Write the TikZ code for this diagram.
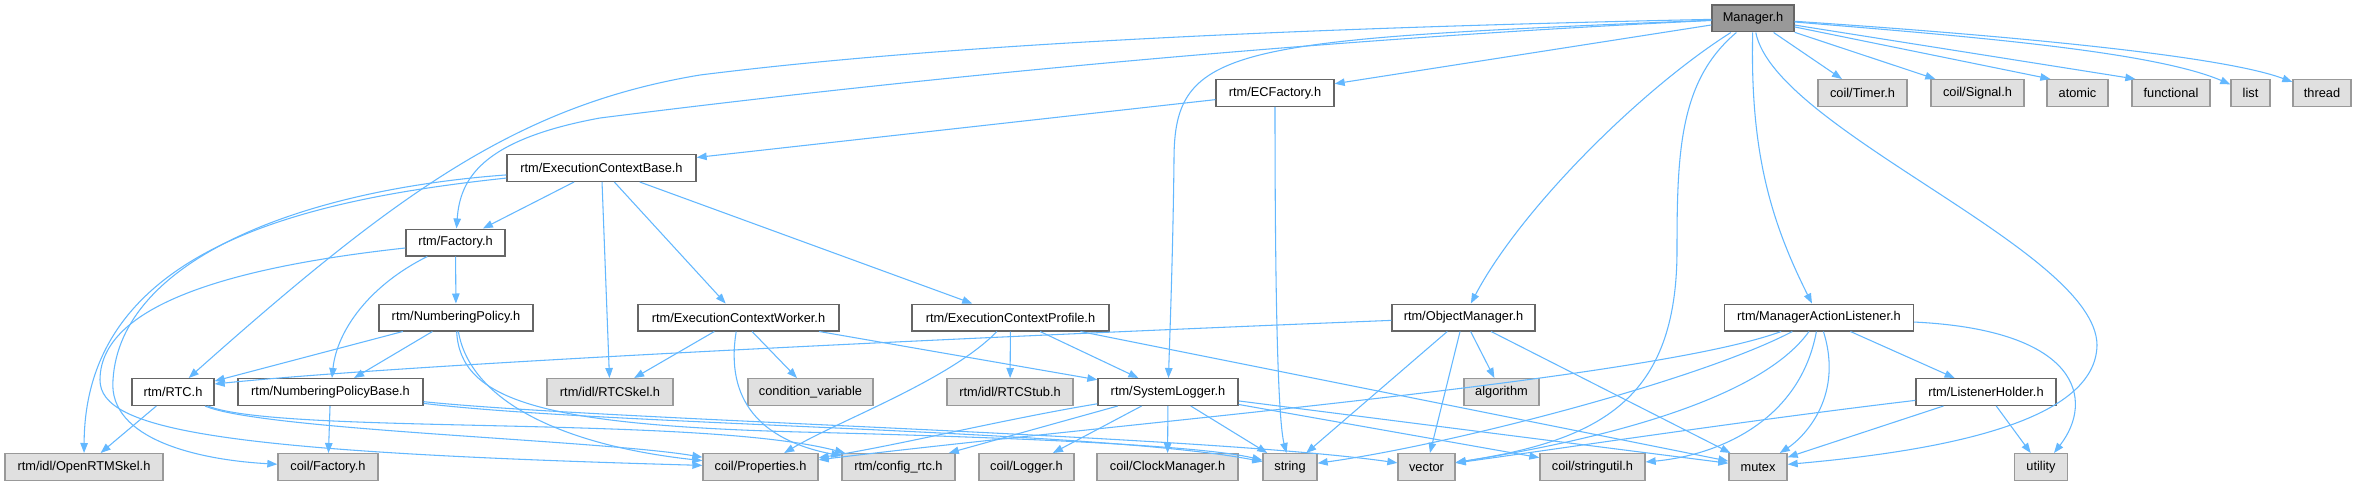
\documentclass[tikz,border=0pt]{standalone}
\usepackage{fontspec}
\setmainfont{Liberation Sans}
\usetikzlibrary{arrows.meta}
\definecolor{edgeblue}{HTML}{63B8FF}
\definecolor{docborder}{HTML}{666666}
\definecolor{extfill}{HTML}{E0E0E0}
\definecolor{extborder}{HTML}{999999}
\definecolor{rootfill}{HTML}{999999}
\begin{document}
\begin{tikzpicture}[x=0.75pt,y=-0.75pt,
  nbase/.style={rectangle, line width=1pt, inner xsep=1pt, inner ysep=0pt, minimum height=20pt, font=\fontsize{9.6}{11}\selectfont, text=black},
  docn/.style={nbase, fill=white, draw=docborder},
  extn/.style={nbase, fill=extfill, draw=extborder},
  rootn/.style={nbase, fill=rootfill, draw=docborder},
  dep/.style={draw=edgeblue, line width=0.8pt, -{Triangle[length=7.5pt,width=5.6pt]}},
]
\fill[white] (0,0) rectangle (2357,485);
\useasboundingbox (0,0) rectangle (2357,485);

% nodes
\node[rootn, minimum width=61.5pt] (M) at (1753,18.5) {Manager.h};
\node[docn, minimum width=88.5pt] (ECF) at (1275,93) {rtm/ECFactory.h};
\node[extn, minimum width=66.75pt] (Timer) at (1862.5,93) {coil/Timer.h};
\node[extn, minimum width=69.75pt] (Signal) at (1977.5,93) {coil/Signal.h};
\node[extn, minimum width=45.75pt] (atomic) at (2077.5,93) {atomic};
\node[extn, minimum width=58.5pt] (functional) at (2171,93) {functional};
\node[extn, minimum width=29.25pt] (list) at (2250.5,93) {list};
\node[extn, minimum width=43.5pt] (thread) at (2322,93) {thread};
\node[docn, minimum width=141.75pt] (ECB) at (601.5,168) {rtm/ExecutionContextBase.h};
\node[docn, minimum width=74.25pt] (Fac) at (455.5,242.5) {rtm/Factory.h};
\node[docn, minimum width=115.5pt] (NP) at (456,317.5) {rtm/NumberingPolicy.h};
\node[docn, minimum width=150.75pt] (ECW) at (738.5,317.5) {rtm/ExecutionContextWorker.h};
\node[docn, minimum width=147.75pt] (ECP) at (1010.5,317.5) {rtm/ExecutionContextProfile.h};
\node[docn, minimum width=107.25pt] (OM) at (1463.5,317.5) {rtm/ObjectManager.h};
\node[docn, minimum width=141.75pt] (MAL) at (1819,317.5) {rtm/ManagerActionListener.h};
\node[docn, minimum width=61.5pt] (RTC) at (173,392) {rtm/RTC.h};
\node[docn, minimum width=138.75pt] (NPB) at (330.5,392) {rtm/NumberingPolicyBase.h};
\node[extn, minimum width=94.5pt] (Skel) at (610,392) {rtm/idl/RTCSkel.h};
\node[extn, minimum width=93.75pt] (CV) at (810.5,392) {condition\_variable};
\node[extn, minimum width=94.5pt] (Stub) at (1010,392) {rtm/idl/RTCStub.h};
\node[docn, minimum width=105pt] (SL) at (1168,392) {rtm/SystemLogger.h};
\node[extn, minimum width=56.25pt] (algo) at (1501.5,392) {algorithm};
\node[docn, minimum width=105pt] (LH) at (1986,392) {rtm/ListenerHolder.h};
\node[extn, minimum width=118.5pt] (ORS) at (84,467) {rtm/idl/OpenRTMSkel.h};
\node[extn, minimum width=75pt] (cFac) at (328,467) {coil/Factory.h};
\node[extn, minimum width=86.25pt] (Prop) at (760.5,467) {coil/Properties.h};
\node[extn, minimum width=84.75pt] (cfg) at (898.5,467) {rtm/config\_rtc.h};
\node[extn, minimum width=71.25pt] (Log) at (1026.5,467) {coil/Logger.h};
\node[extn, minimum width=105.75pt] (Clock) at (1167.5,467) {coil/ClockManager.h};
\node[extn, minimum width=40.5pt] (str) at (1290,467) {string};
\node[extn, minimum width=42.75pt] (vec) at (1426.5,467) {vector};
\node[extn, minimum width=78.75pt] (sutil) at (1592.5,467) {coil/stringutil.h};
\node[extn, minimum width=43.5pt] (mtx) at (1758,467) {mutex};
\node[extn, minimum width=39.75pt] (util) at (2041,467) {utility};

% Manager.h
\draw[dep] (M) .. controls (1200,30) and (900,50) .. (700,75) .. controls (520,105) and (400,190) .. (RTC);
\draw[dep] (M) .. controls (1300,40) and (900,80) .. (600,118) .. controls (480,140) and (460,180) .. (Fac);
\draw[dep] (M) -- (ECF);
\draw[dep] (M) .. controls (1230,40) and (1174,45) .. (1174,160) .. controls (1173,250) and (1170,330) .. (SL);
\draw[dep] (M) .. controls (1640,90) and (1520,210) .. (OM);
\draw[dep] (M) .. controls (1680,80) and (1677,150) .. (1677,250) .. controls (1677,400) and (1600,440) .. (vec);
\draw[dep] (M) .. controls (1750,150) and (1770,220) .. (MAL);
\draw[dep] (M) .. controls (1775,130) and (2096,250) .. (2097,345) .. controls (2096,420) and (1950,450) .. (mtx);
\draw[dep] (M) -- (Timer);
\draw[dep] (M) -- (Signal);
\draw[dep] (M) -- ([xshift=3pt]atomic.north west);
\draw[dep] (M) -- ([xshift=3pt]functional.north west);
\draw[dep] (M) .. controls (1950,35) and (2150,50) .. (list);
\draw[dep] (M) .. controls (2000,35) and (2220,55) .. (thread);

% ECFactory.h
\draw[dep] (ECF) -- (ECB);
\draw[dep] (ECF) .. controls (1275,300) and (1278,420) .. (str);

% ExecutionContextBase.h
\draw[dep] (ECB) .. controls (300,200) and (85,250) .. (ORS);
\draw[dep] (ECB) .. controls (300,190) and (120,260) .. (113,380) .. controls (108,440) and (200,460) .. (cFac);
\draw[dep] (ECB) -- (Fac);
\draw[dep] (ECB) -- (Skel);
\draw[dep] (ECB) -- (ECW);
\draw[dep] (ECB) -- (ECP);

% Factory.h
\draw[dep] (Fac) -- (NP);
\draw[dep] (Fac) .. controls (370,285) and (337,330) .. (NPB);
\draw[dep] (Fac) .. controls (250,265) and (100,300) .. (100,380) .. controls (100,430) and (220,452) .. (Prop);

% NumberingPolicy.h
\draw[dep] (NP) -- (RTC);
\draw[dep] (NP) -- (NPB);
\draw[dep] (NP) .. controls (460,400) and (540,425) .. (800,432) .. controls (1000,437) and (1200,445) .. (str);
\draw[dep] (NP) .. controls (470,400) and (560,445) .. (Prop);

% RTC.h
\draw[dep] (RTC) -- (ORS);
\draw[dep] (RTC) .. controls (260,430) and (600,440) .. (Prop);
\draw[dep] (RTC) .. controls (280,435) and (700,415) .. (cfg);

% NumberingPolicyBase.h
\draw[dep] (NPB) -- (cFac);
\draw[dep] (NPB) .. controls (600,425) and (1100,430) .. (str);
\draw[dep] (NPB) .. controls (600,420) and (1200,435) .. (vec);

% ExecutionContextWorker.h
\draw[dep] (ECW) -- (Skel);
\draw[dep] (ECW) -- (CV);
\draw[dep] (ECW) -- (SL);
\draw[dep] (ECW) .. controls (725,400) and (760,440) .. (cfg);

% ExecutionContextProfile.h
\draw[dep] (ECP) .. controls (950,380) and (840,420) .. (Prop);
\draw[dep] (ECP) -- (Stub);
\draw[dep] (ECP) -- (SL);
\draw[dep] (ECP) -- (mtx);

% ObjectManager.h
\draw[dep] (OM) .. controls (900,340) and (400,365) .. ([yshift=6pt]RTC.east);
\draw[dep] (OM) -- (str);
\draw[dep] (OM) -- (vec);
\draw[dep] (OM) -- (algo);
\draw[dep] (OM) -- (mtx);

% SystemLogger.h
\draw[dep] (SL) .. controls (1000,420) and (900,445) .. (Prop);
\draw[dep] (SL) -- (cfg);
\draw[dep] (SL) -- (Log);
\draw[dep] (SL) -- (Clock);
\draw[dep] (SL) -- (str);
\draw[dep] (SL) -- (sutil);
\draw[dep] (SL) -- (mtx);

% ManagerActionListener.h
\draw[dep] (MAL) .. controls (1650,380) and (1100,425) .. (Prop);
\draw[dep] (MAL) .. controls (1700,380) and (1450,445) .. (str);
\draw[dep] (MAL) .. controls (1760,400) and (1600,440) .. (vec);
\draw[dep] (MAL) .. controls (1800,420) and (1720,455) .. (sutil);
\draw[dep] (MAL) .. controls (1845,400) and (1800,440) .. (mtx);
\draw[dep] (MAL) -- (LH);
\draw[dep] (MAL) .. controls (2080,330) and (2095,400) .. ([xshift=9.75pt]util.north);

% ListenerHolder.h
\draw[dep] (LH) .. controls (1750,420) and (1550,450) .. (vec);
\draw[dep] (LH) -- (mtx);
\draw[dep] (LH) -- (util);
\end{tikzpicture}
\end{document}
